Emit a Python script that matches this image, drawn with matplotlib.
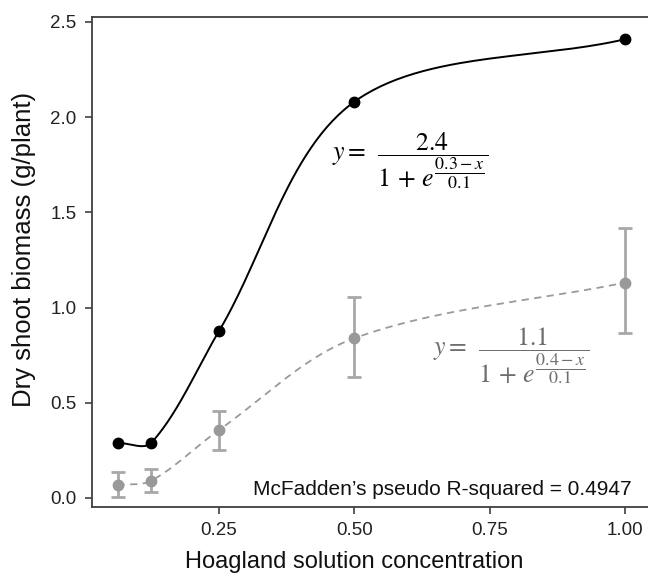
import numpy as np
import matplotlib
matplotlib.use("Agg")
import matplotlib.pyplot as plt

plt.rcParams['font.family'] = ['Liberation Sans', 'DejaVu Sans']
plt.rcParams['mathtext.fontset'] = 'stix'

# Data
conc = [0.0625, 0.125, 0.25, 0.5, 1.0]
biomass_a = [0.29, 0.29, 0.877, 2.081, 2.409]
biomass_b = [0.068, 0.091, 0.357, 0.839, 1.131]
err_low_b = [0.061, 0.061, 0.105, 0.205, 0.266]
err_high_b = [0.070, 0.060, 0.098, 0.215, 0.289]
xticks = [0.25, 0.50, 0.75, 1.00]
xtick_labels = ['0.25', '0.50', '0.75', '1.00']
yticks = [0.0, 0.5, 1.0, 1.5, 2.0, 2.5]
ytick_labels = ['0.0', '0.5', '1.0', '1.5', '2.0', '2.5']


def smooth(ax, xs, ys, n=60):
    """Smoothed line through the points (spreadsheet-style Bezier smoothing),
    built in display space, returned in data space."""
    P = ax.transData.transform(np.column_stack([xs, ys]).astype(float))
    Pext = np.vstack([P[0], P, P[-1]])
    d = np.linalg.norm(np.diff(Pext, axis=0), axis=1)
    out = []
    t = np.linspace(0, 1, n)[:, None]
    for i in range(len(P) - 1):
        p0, p1, p2, p3 = Pext[i], Pext[i + 1], Pext[i + 2], Pext[i + 3]
        d0, d1, d2 = d[i], d[i + 1], d[i + 2]
        f1 = d1 / (d0 + d1) if d0 > 0 else 0.5
        f2 = d1 / (d1 + d2) if d2 > 0 else 0.5
        b0 = p1
        b1 = p1 + (p2 - p0) * f1 / 3 * (1 if d0 > 0 else 0.0) + ((p2 - p1) / 3 if d0 == 0 else 0)
        b2 = p2 - (p3 - p1) * f2 / 3 * (1 if d2 > 0 else 0.0) - ((p2 - p1) / 3 if d2 == 0 else 0)
        b3 = p2
        seg = ((1 - t) ** 3) * b0 + 3 * ((1 - t) ** 2) * t * b1 + 3 * (1 - t) * t ** 2 * b2 + t ** 3 * b3
        out.append(seg if i == 0 else seg[1:])
    c = ax.transData.inverted().transform(np.vstack(out))
    return c[:, 0], c[:, 1]


fig = plt.figure(figsize=(6.48, 5.73), dpi=100)
ax = fig.add_axes([0.142, 0.1152, 0.858, 0.8551])

ax.set_xlim(0.0153, 1.0427)
ax.set_ylim(-0.0473, 2.526)

sx, sy = smooth(ax, conc, biomass_a)
ax.plot(sx, sy, color='black', lw=1.4, zorder=3)
ax.plot(conc, biomass_a, 'o', color='black', ms=7.5, zorder=4)

gx, gy = smooth(ax, conc, biomass_b)
ax.plot(gx, gy, color='#9a9a9a', lw=1.3, ls=(0, (4, 3)), zorder=2)
ax.errorbar(conc, biomass_b, yerr=[err_low_b, err_high_b], fmt='o', color='#999999',
            ecolor='#a8a8a8', elinewidth=2.0, capsize=5, capthick=2.0, ms=7.5, zorder=3)

ax.set_xticks(xticks)
ax.set_xticklabels(xtick_labels)
ax.set_yticks(yticks)
ax.set_yticklabels(ytick_labels)

for s in ['left', 'bottom', 'top']:
    ax.spines[s].set_color('#404040')
    ax.spines[s].set_linewidth(1.3)
ax.spines['right'].set_visible(False)
ax.tick_params(axis='both', direction='out', length=5, width=1.2, color='#404040',
               labelsize=13.5, labelcolor='#222222', pad=6)

fig.text(354 / 648, 1 - 568 / 573, 'Hoagland solution concentration', fontsize=17,
         color='#111111', ha='center', va='baseline')
fig.text(24 / 648, 1 - 249.5 / 573, 'Dry shoot biomass (g/plant)', fontsize=18.5,
         color='#111111', ha='center', va='center', rotation=90)

ax.text(0.459, 1.770, r'$y=\;\,\dfrac{2.4}{1\,+\,e^{\dfrac{0.3-x}{0.1}}}$', fontsize=18.5,
        color='black', ha='left', va='center')
ax.text(0.645, 0.746, r'$y=\;\,\dfrac{1.1}{1\,+\,e^{\dfrac{0.4-x}{0.1}}}$', fontsize=18.5,
        color='#6e6e6e', ha='left', va='center')

ax.text(1.013, 0.016, "McFadden\u2019s pseudo R-squared = 0.4947", fontsize=15,
        color='#111111', ha='right', va='baseline')

fig.savefig('out.png', dpi=100)
